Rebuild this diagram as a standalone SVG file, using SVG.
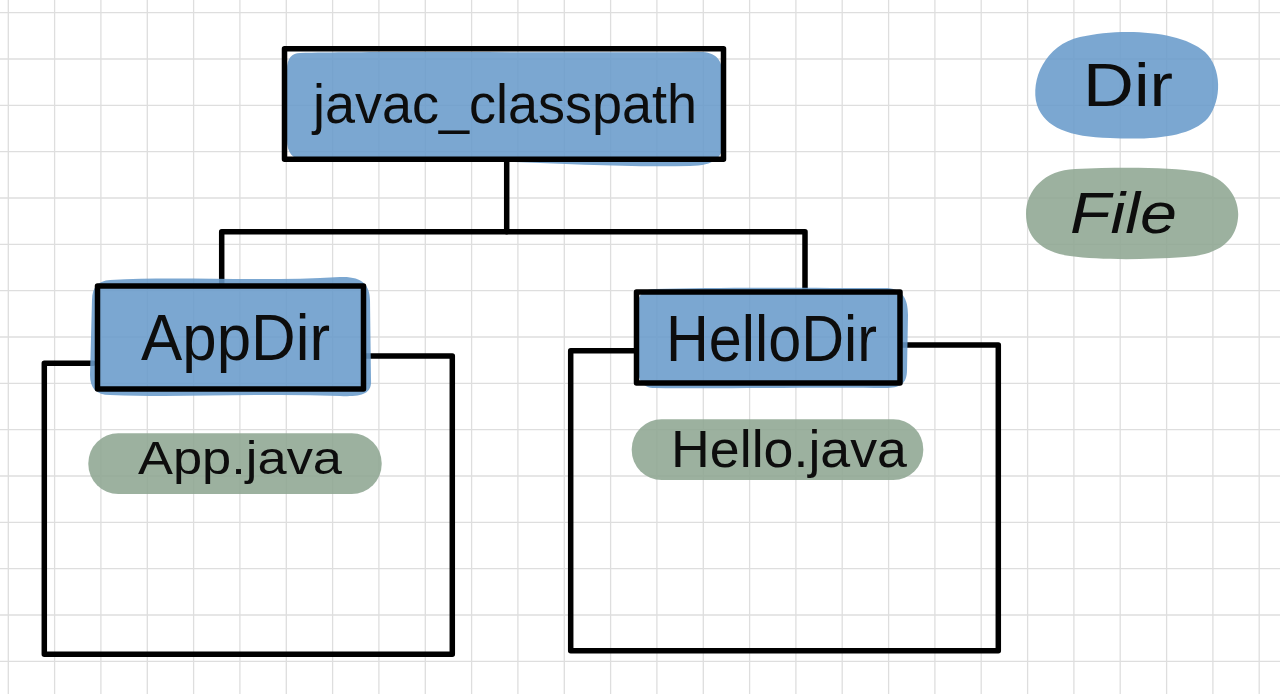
<svg xmlns="http://www.w3.org/2000/svg" width="1280" height="694" viewBox="0 0 1280 694">
  <defs>
    <style>
      .grid { stroke: #dedede; stroke-width: 1.3; fill: none; }
      .ink { stroke: #000; stroke-width: 5.5; fill: none; stroke-linejoin: round; stroke-linecap: round; }
      .dir { fill: #699bcb; fill-opacity: 0.88; }
      .file { fill: #8ea692; fill-opacity: 0.88; }
      .lbl { font-family: "Liberation Sans", "Noto Sans", sans-serif; fill: #0d0d0d; text-anchor: start; }
    </style>
  </defs>
  <rect x="0" y="0" width="1280" height="694" fill="#ffffff"/>
  <g id="grid" class="grid">
    <path d="M8.3,0V694 M54.6,0V694 M100.9,0V694 M147.3,0V694 M193.6,0V694 M239.9,0V694 M286.3,0V694 M332.6,0V694 M378.9,0V694 M425.3,0V694 M471.6,0V694 M517.9,0V694 M564.3,0V694 M610.6,0V694 M656.9,0V694 M703.3,0V694 M749.6,0V694 M795.9,0V694 M842.2,0V694 M888.6,0V694 M934.9,0V694 M981.2,0V694 M1027.6,0V694 M1073.9,0V694 M1120.2,0V694 M1166.6,0V694 M1212.9,0V694 M1259.2,0V694"/>
    <path d="M0,12.7H1280 M0,59H1280 M0,105.3H1280 M0,151.7H1280 M0,198H1280 M0,244.3H1280 M0,290.7H1280 M0,337H1280 M0,383.3H1280 M0,429.7H1280 M0,476H1280 M0,522.3H1280 M0,568.7H1280 M0,615H1280 M0,661.3H1280"/>
  </g>

  <g id="connectors">
    <path class="ink" d="M506.7,161 V231.7"/>
    <path class="ink" d="M221.7,284 V231.7 H805 V290"/>
  </g>

  <g id="javac_classpath">
    <path class="dir" d="M300,53 C380,51 560,53 700,52 C716,52 722,60 722,72 L723,140 C724,156 716,166 690,166 C600,168 520,160 420,160 L305,160 C292,160 287,152 287,140 L287,70 C287,58 292,53 300,53 Z"/>
    <rect class="ink" x="284.5" y="48.8" width="439" height="110.5"/>
    <text class="lbl" x="313" y="123" font-size="56" textLength="384" lengthAdjust="spacingAndGlyphs">javac_classpath</text>
  </g>

  <g id="AppDir">
    <path class="ink" d="M93,363.3 H44.3 V654.3 H452.3 V356 H366"/>
    <path class="dir" d="M110,280 C180,276 260,282 340,277 C362,276 370,285 370,300 L371,380 C372,394 362,397 340,396 C260,393 180,398 110,395 C96,395 90,388 90,375 L92,300 C92,287 98,281 110,280 Z"/>
    <rect class="ink" x="97.5" y="286" width="266" height="103"/>
    <text class="lbl" x="141" y="360" font-size="64" textLength="189" lengthAdjust="spacingAndGlyphs">AppDir</text>
  </g>

  <g id="HelloDir">
    <path class="ink" d="M634,350.7 H570.7 V650.7 H998.3 V345 H902"/>
    <path class="dir" d="M655,289 C720,287 820,288 885,288 C902,288 908,298 908,315 L907,370 C907,384 900,388 885,388 C820,387 720,389 655,388 C642,388 638,380 638,368 L638,305 C638,294 644,289 655,289 Z"/>
    <rect class="ink" x="636.5" y="292" width="263.5" height="91"/>
    <text class="lbl" x="666" y="361" font-size="64" textLength="211" lengthAdjust="spacingAndGlyphs">HelloDir</text>
  </g>

  <g id="App.java">
    <rect class="file" x="88.3" y="433.3" width="293.4" height="60.7" rx="30" ry="30"/>
    <text class="lbl" x="138" y="474" font-size="46" textLength="204" lengthAdjust="spacingAndGlyphs">App.java</text>
  </g>

  <g id="Hello.java">
    <rect class="file" x="631.7" y="419.3" width="291.6" height="60.7" rx="30" ry="30"/>
    <text class="lbl" x="671" y="467" font-size="52" textLength="236" lengthAdjust="spacingAndGlyphs">Hello.java</text>
  </g>

  <g id="legend-Dir">
    <path class="dir" d="M1080,37 C1120,28 1180,30 1205,52 C1222,68 1222,100 1208,118 C1190,138 1150,140 1110,138 C1070,137 1045,128 1037,105 C1030,80 1045,45 1080,37 Z"/>
    <text class="lbl" x="1083" y="106" font-size="62" textLength="90" lengthAdjust="spacingAndGlyphs">Dir</text>
  </g>

  <g id="legend-File">
    <path class="file" d="M1075,169 C1120,167 1170,167 1200,172 C1228,178 1240,200 1238,218 C1236,240 1220,255 1185,257 C1140,260 1100,260 1070,256 C1040,252 1026,236 1026,214 C1026,190 1045,170 1075,169 Z"/>
    <text class="lbl" x="1070" y="233" font-size="58" font-style="italic" textLength="107" lengthAdjust="spacingAndGlyphs">File</text>
  </g>
</svg>
